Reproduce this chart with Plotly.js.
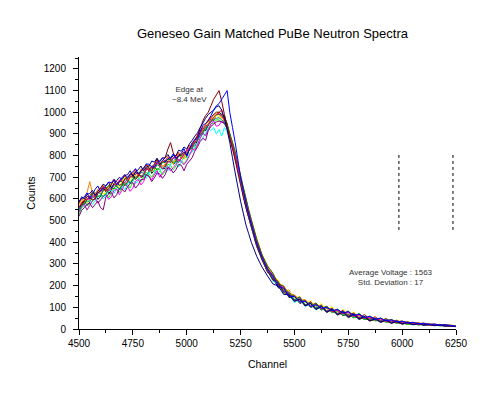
<!DOCTYPE html>
<html>
<head>
<meta charset="utf-8">
<script src="https://cdn.plot.ly/plotly-3.0.1.min.js"></script>
<style>html,body{margin:0;padding:0;background:#fff;}#chart{width:494px;height:394px;}</style>
</head>
<body>
<div id="chart"></div>
<script>
// Channels: every 12.5 up to the edge, every 25 along the tail
const channels = [4500,4512.5,4525,4537.5,4550,4562.5,4575,4587.5,4600,4612.5,4625,4637.5,4650,4662.5,4675,4687.5,4700,4712.5,4725,4737.5,4750,4762.5,4775,4787.5,4800,4812.5,4825,4837.5,4850,4862.5,4875,4887.5,4900,4912.5,4925,4937.5,4950,4962.5,4975,4987.5,5000,5012.5,5025,5037.5,5050,5062.5,5075,5087.5,5100,5112.5,5125,5137.5,5150,5162.5,5175,5187.5,5200,5212.5,5225,5237.5,5250,5262.5,5275,5287.5,
  5300,5325,5350,5375,5400,5425,5450,5475,5500,5525,5550,5575,5600,5625,5650,5675,5700,5725,5750,5775,5800,5825,5850,5875,5900,5925,5950,5975,6000,6025,6050,6075,6100,6125,6150,6175,6200,6225,6250];

const spec01 = [548,580,592,570,585,615,630,598,610,640,655,625,640,668,672,650,660,695,700,672,690,715,722,700,705,742,745,718,735,765,760,738,742,780,782,760,770,805,800,785,795,830,850,842,870,905,930,915,940,975,990,1000,1000,990,985,940,900,850,800,740,680,615,560,515,
  470,380,320,262,236,190,188,145,150,118,128,100,108,88,96,76,80,62,68,52,56,44,46,38,40,32,34,27,28,22,24,19,21,17,18,15,16,13,11];
const spec02 = [580,602,575,598,615,632,605,640,640,660,630,655,668,690,655,678,690,712,680,705,715,738,700,728,738,760,725,748,760,780,748,772,775,795,765,790,795,815,785,810,825,848,830,870,895,920,905,945,965,982,960,990,1000,1010,950,930,890,845,780,735,690,630,580,530,
  490,405,330,285,228,222,170,180,132,145,108,128,95,112,82,98,72,84,58,70,50,58,42,48,36,42,30,36,24,28,21,25,18,21,16,18,14,16,13];
const spec03 = [530,560,570,548,575,590,600,582,598,615,625,605,630,648,648,630,655,672,668,650,680,702,698,680,702,722,715,700,720,742,735,712,728,760,755,735,752,780,778,762,780,808,820,835,850,880,900,895,925,948,950,965,965,955,950,925,885,850,800,745,690,640,590,540,
  495,412,335,280,250,200,192,150,146,122,126,102,110,88,96,76,82,64,70,52,58,44,48,38,40,32,35,27,29,22,25,19,22,17,19,15,16,13,12];
const spec04 = [555,548,560,582,595,575,590,612,618,600,615,638,640,625,650,668,660,642,668,688,690,670,685,705,712,695,718,738,730,712,728,752,748,730,760,778,765,748,772,795,790,808,815,845,860,870,880,905,925,915,930,900,920,890,930,910,875,835,790,735,680,625,570,520,
  470,388,318,270,220,210,160,160,122,136,104,116,88,102,76,90,64,78,52,66,44,56,38,48,32,42,27,36,22,30,19,26,16,22,14,19,12,16,11];
const spec05 = [540,565,575,550,570,592,605,580,595,612,620,598,610,640,645,620,640,668,660,635,650,682,690,665,680,712,705,688,712,730,700,718,735,750,728,745,760,785,770,758,775,800,830,825,850,880,905,890,920,945,960,935,940,960,945,930,890,850,805,755,700,648,595,545,
  500,410,340,288,252,205,198,158,152,130,132,108,116,92,100,80,86,70,76,58,64,50,54,42,46,36,40,30,34,26,28,22,24,18,21,16,18,14,14];
const spec06 = [570,590,600,580,590,618,625,640,640,622,630,655,660,672,670,652,680,700,700,682,705,710,700,725,730,752,742,725,738,762,760,740,765,780,778,760,790,802,795,780,810,832,840,860,875,902,915,935,950,962,970,985,980,972,960,935,890,855,810,755,700,650,600,550,
  505,420,345,292,242,226,180,178,140,152,112,132,98,118,84,104,70,92,62,80,54,68,46,58,40,50,34,42,29,35,25,30,21,26,18,22,16,19,15];
const spec07 = [575,598,605,630,680,625,620,645,650,668,640,662,672,690,660,680,695,705,688,712,718,730,710,738,735,760,752,740,745,772,770,752,760,795,790,770,782,812,805,790,815,840,845,870,885,915,930,945,955,975,985,1000,990,975,970,940,900,860,815,760,705,650,598,548,
  500,412,340,292,256,210,200,162,158,132,136,110,120,96,104,84,90,72,80,60,68,52,58,44,50,38,43,33,37,28,31,25,27,21,23,18,20,16,13];
const spec08 = [520,548,560,575,580,560,575,590,560,550,610,622,630,605,620,648,645,632,655,672,675,650,665,690,690,712,705,680,698,720,715,695,712,745,740,720,735,760,755,730,760,775,790,820,840,865,880,870,915,935,945,955,960,955,950,925,880,848,800,750,695,645,590,540,
  495,405,335,280,236,218,176,170,134,148,110,124,96,110,82,96,70,86,62,74,52,66,46,56,38,48,33,40,28,34,24,29,20,24,17,21,15,18,12];
const spec09 = [565,572,580,598,605,630,620,612,615,640,645,662,655,648,668,682,680,660,675,705,700,725,720,705,712,735,738,752,750,732,745,770,768,785,780,765,775,798,800,815,805,828,835,860,870,895,910,930,945,958,975,988,990,985,975,950,900,862,820,765,710,655,605,552,
  505,415,342,290,258,208,196,156,154,126,132,104,120,92,106,80,92,68,84,58,72,50,60,44,50,38,44,33,36,28,30,24,26,21,22,18,19,16,12];
const spec10 = [545,568,578,590,590,605,612,630,625,610,622,645,648,665,658,642,665,678,690,672,692,700,705,722,720,708,728,745,740,758,752,738,755,772,770,788,780,768,790,802,812,825,838,858,872,892,905,922,940,955,965,972,975,965,955,925,878,838,795,740,685,632,580,532,
  485,400,330,278,232,216,174,168,134,146,112,122,96,108,80,94,68,82,56,70,46,58,40,48,34,42,28,36,24,30,20,25,18,21,16,18,14,15,12];
const spec11 = [560,585,595,600,598,612,615,632,632,650,648,638,645,668,668,688,685,672,680,700,705,722,718,700,715,738,735,750,745,765,760,740,752,770,775,790,792,775,785,808,818,835,842,862,880,900,920,938,942,962,978,990,995,980,965,935,885,845,800,745,688,635,585,538,
  490,402,332,280,248,200,192,150,152,124,130,104,114,92,100,80,86,70,78,58,66,50,56,42,47,36,40,31,34,27,29,22,24,19,21,16,18,14,12];
const spec12 = [560,575,590,612,610,595,600,625,640,652,635,648,665,688,680,662,670,690,700,715,712,690,705,730,745,758,740,728,760,785,772,790,790,830,860,812,790,798,805,818,800,828,850,875,890,925,960,985,1000,1030,1060,1080,1100,1050,990,935,880,830,780,720,665,610,560,515,
  470,385,318,268,226,210,168,160,128,138,108,118,90,104,76,90,64,78,52,66,44,54,36,46,30,40,26,33,22,28,20,24,18,20,16,17,14,13,11];
const spec13 = [585,610,600,622,625,640,615,635,650,668,660,678,650,672,685,700,690,708,712,730,705,725,735,752,728,748,752,775,770,788,758,778,790,805,785,800,800,825,820,840,830,855,870,890,905,930,950,972,990,1000,1010,1025,1030,1010,970,920,860,790,720,655,590,535,480,440,
  400,335,285,245,208,198,160,158,128,138,106,118,90,104,78,92,66,80,56,68,46,58,38,48,32,42,27,36,24,30,20,25,18,21,16,18,14,15,12];
const spec14 = [590,602,610,628,600,620,645,660,635,650,660,678,675,690,665,680,700,712,695,715,725,740,715,728,740,762,760,748,748,770,775,790,770,785,790,808,785,800,810,832,800,830,860,872,880,910,940,948,960,985,1010,1030,1040,1060,1080,1100,1000,930,860,780,700,640,580,530,
  485,395,330,275,244,198,188,150,150,124,128,104,112,96,100,84,90,74,80,62,68,52,58,44,50,38,42,33,36,28,31,24,27,21,23,18,20,16,12];

const seriesList = [spec01,spec02,spec03,spec04,spec05,spec06,spec07,spec08,spec09,spec10,spec11,spec12,spec13,spec14];
const seriesColors = ['#000000','#FF0000','#00FF00','#00FFFF','#FF00FF','#FFFF00','#FF8000','#800080','#008000','#008080','#FF0080','#800000','#000080','#0000FF'];

// Dotted marker lines
const markerX = [5985, 6236];
const markerY = [457, 812];

const xTicks = [4500,4750,5000,5250,5500,5750,6000,6250];
const yTicks = [0,100,200,300,400,500,600,700,800,900,1000,1100,1200];

const traces = seriesList.map((ys, i) => ({
  x: channels, y: ys, type: 'scatter', mode: 'lines',
  line: {color: seriesColors[i], width: 1, simplify: false}, hoverinfo: 'skip'
}));
markerX.forEach(mx => {
  traces.push({x: [mx, mx], y: markerY, type: 'scatter', mode: 'lines',
    line: {color: '#000000', width: 1, dash: 'dot'}, hoverinfo: 'skip'});
});

const fontFam = '"Liberation Sans", Arial, sans-serif';
const layout = {
  width: 494, height: 394,
  margin: {l: 79, r: 38, t: 57, b: 65},
  paper_bgcolor: '#ffffff', plot_bgcolor: '#ffffff',
  showlegend: false,
  font: {family: fontFam, size: 10, color: '#000000'},
  title: {text: 'Geneseo Gain Matched PuBe Neutron Spectra', font: {family: fontFam, size: 13, color: '#000000'},
    xref: 'container', x: 0.5516, xanchor: 'center', yref: 'container', y: 1 - 33/394, yanchor: 'middle'},
  xaxis: {
    range: [4500, 6250], tickvals: xTicks, ticktext: xTicks.map(String),
    showgrid: false, zeroline: false, showline: true, linecolor: '#000000', linewidth: 1,
    ticks: 'outside', ticklen: 5, tickcolor: '#000000', tickfont: {size: 10},
    minor: {dtick: 125, tick0: 4625, ticks: 'outside', ticklen: 3, tickcolor: '#000000', showgrid: false},
    title: {text: 'Channel', font: {size: 10.5}, standoff: 12}
  },
  yaxis: {
    range: [0, 1255], tickvals: yTicks, ticktext: yTicks.map(String),
    showgrid: false, zeroline: false, showline: true, linecolor: '#000000', linewidth: 1,
    ticks: 'outside', ticklen: 5, tickcolor: '#000000', tickfont: {size: 10}, ticklabelstandoff: 5,
    minor: {dtick: 50, tick0: 50, ticks: 'outside', ticklen: 3, tickcolor: '#000000', showgrid: false},
    title: {text: 'Counts', font: {size: 10.5}, standoff: 6}
  },
  annotations: [
    {x: 5011, y: 1084, xref: 'x', yref: 'y', text: 'Edge at<br>~8.4 MeV', showarrow: false,
     font: {size: 8, color: '#333333'}, xanchor: 'center', yanchor: 'middle', align: 'center'},
    {x: 5947, y: 236, xref: 'x', yref: 'y', text: 'Average Voltage : 1563<br>Std. Deviation : 17', showarrow: false,
     font: {size: 8, color: '#333333'}, xanchor: 'center', yanchor: 'middle', align: 'center'}
  ]
};

Plotly.newPlot('chart', traces, layout, {staticPlot: true, displayModeBar: false});
</script>
</body>
</html>
